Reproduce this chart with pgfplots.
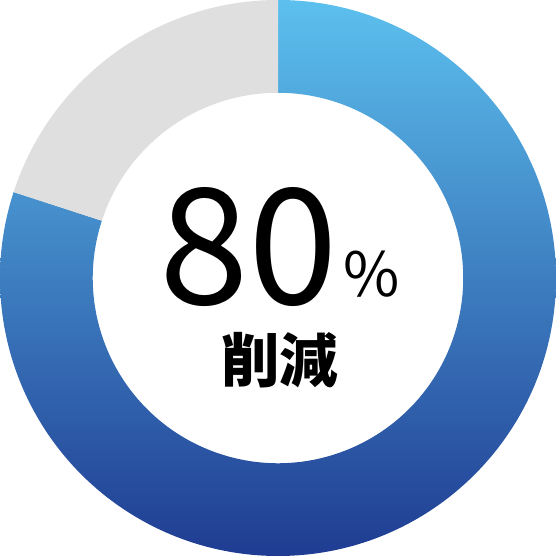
\documentclass[border=0pt]{standalone}
\usepackage{pgfplots}
\pgfplotsset{compat=1.18}
\usetikzlibrary{calc}
\usepackage{fontspec}
\setmainfont{Noto Sans CJK JP}

\definecolor{ringtop}{HTML}{5CC0EE}
\definecolor{ringbot}{HTML}{1F3C92}
\definecolor{ringrest}{HTML}{DFDFDF}

% share of the ring (percent)
\def\share{80}
\def\Rout{4cm}
\def\Rin{2.665cm}

\begin{document}
\begin{tikzpicture}
\begin{axis}[
    name=ring,
    hide axis,
    scale only axis,
    width=8cm, height=8cm,
    xmin=-1, xmax=1, ymin=-1, ymax=1,
    clip=false
]
\pgfmathsetmacro{\sweep}{3.6*\share}
\pgfmathsetmacro{\stopang}{90-\sweep}
\pgfmathsetmacro{\restang}{90-\sweep+360}
\coordinate (c) at (axis cs:0,0);
% reduced share, vertical gradient
\shade[top color=ringtop, bottom color=ringbot, draw=none]
    ($(c)+(90:\Rout)$) arc[start angle=90, delta angle=-\sweep, radius=\Rout]
    -- ($(c)+(\stopang:\Rin)$) arc[start angle=\stopang, delta angle=\sweep, radius=\Rin]
    -- cycle;
% remainder
\fill[ringrest]
    ($(c)+(\restang:\Rout)$) arc[start angle=\restang, end angle=90, radius=\Rout]
    -- ($(c)+(90:\Rin)$) arc[start angle=90, end angle=\restang, radius=\Rin]
    -- cycle;
\node[anchor=base, font=\fontsize{66}{66}\selectfont, inner sep=0pt] at (axis cs:-0.106,-0.097) {\share};
\node[anchor=base, font=\fontsize{25}{25}\selectfont, inner sep=0pt] at (axis cs:0.338,-0.068) {\%};
\node[anchor=center, font=\fontsize{24}{24}\selectfont\bfseries, inner sep=0pt] at (axis cs:0.007,-0.295) {削減};
\end{axis}
\pgfresetboundingbox
\useasboundingbox (ring.south west) rectangle (ring.north east);
\end{tikzpicture}
\end{document}
